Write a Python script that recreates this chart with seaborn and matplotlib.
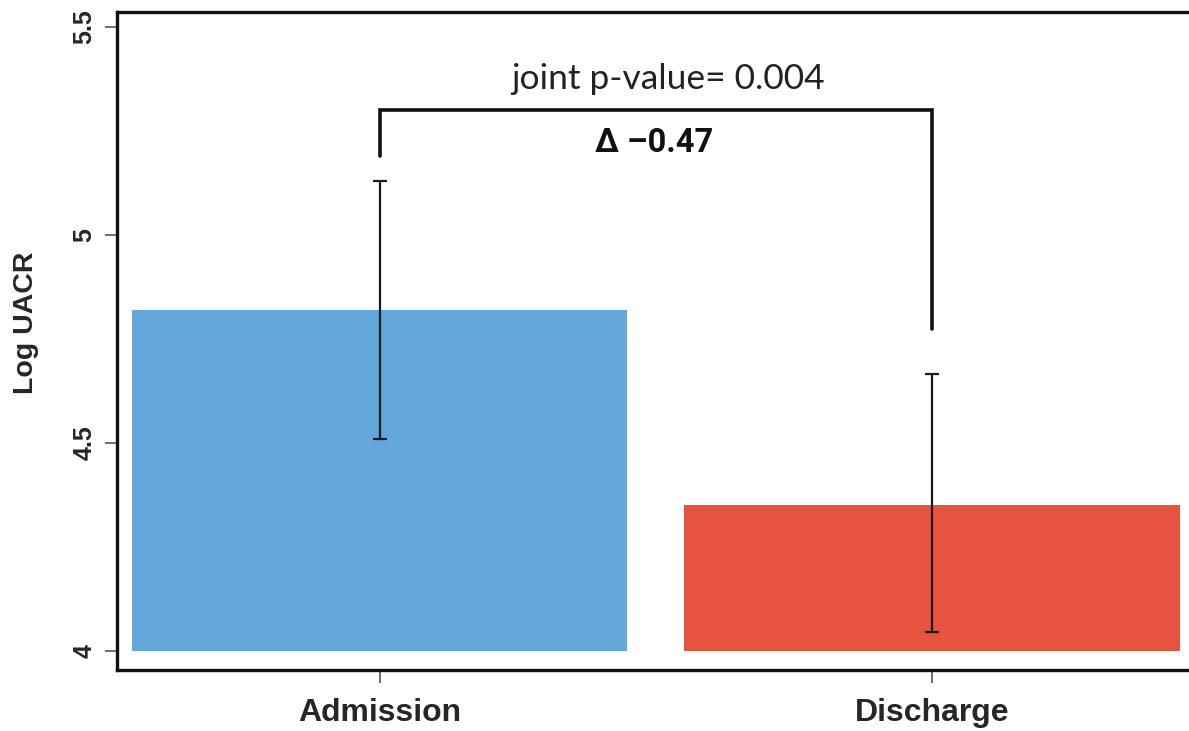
import matplotlib
matplotlib.use("Agg")
import matplotlib.pyplot as plt
import seaborn as sns
import pandas as pd

# Group means of log UACR with their interval limits
categories = ["Admission", "Discharge"]
means = [4.82, 4.35]
lower = [4.51, 4.045]
upper = [5.13, 4.665]
baseline = 4.0
colors = ["#64A7DA", "#E6533F"]

# Annotation values
bracket_y = 5.30
bracket_left_end = 5.19
bracket_right_end = 4.775
p_label = "joint p-value= 0.004"
delta_label = "\u0394 \u20130.47"

sns.set_style("white")
plt.rcParams["font.family"] = ["Liberation Sans", "DejaVu Sans"]

fig = plt.figure(figsize=(11.89, 7.31), dpi=100)
W, H = 1189, 731
ax = fig.add_axes([117 / W, 61 / H, (1208 - 117) / W, (670 - 12) / H])

df = pd.DataFrame({"group": categories, "value": means})
sns.barplot(data=df, x="group", y="value", hue="group", palette=colors,
            width=0.897, errorbar=None, legend=False, ax=ax, saturation=1)

# Bars rise from the baseline of the axis rather than from zero
for p in ax.patches:
    h = p.get_height()
    p.set_y(baseline)
    p.set_height(h - baseline)
    p.set_edgecolor("none")

xs = list(range(len(categories)))
yerr = [[m - lo for m, lo in zip(means, lower)],
        [hi - m for m, hi in zip(means, upper)]]
ax.errorbar(xs, means, yerr=yerr, fmt="none", ecolor="#1a1a1a",
            elinewidth=1.6, capsize=5, capthick=1.6, zorder=5)

# Comparison bracket
ax.plot([0, 0, 1, 1], [bracket_left_end, bracket_y, bracket_y, bracket_right_end],
        color="#111111", lw=2.6, solid_joinstyle="miter", zorder=5)
ax.text(0.522, 5.375, p_label, ha="center", va="center", fontsize=25.5,
        family=["Lato", "DejaVu Sans"], color="#222222")
ax.text(0.497, 5.22, delta_label, ha="center", va="center", fontsize=23.5,
        fontweight="bold", family=["Roboto", "DejaVu Sans"], color="#111111")

ax.set_xlim(-0.476, 1.5)
ax.set_ylim(3.954, 5.536)
ax.set_yticks([4, 4.5, 5, 5.5])
ax.set_yticklabels(["4", "4.5", "5", "5.5"], rotation=90, va="center",
                   fontsize=18, fontweight="bold")
ax.set_xticks(xs)
ax.set_xticklabels(categories, fontsize=23, fontweight="bold")
ax.set_xlabel("")
ax.set_ylabel("Log UACR", fontsize=20.5, fontweight="bold")
ax.yaxis.set_label_coords((39 - 117) / 1091, (670 - 323) / 658)

ax.tick_params(axis="both", which="major", direction="out", length=9,
               width=1.2, color="#555555", left=True, bottom=True)
ax.tick_params(axis="y", pad=6)
ax.tick_params(axis="x", pad=11)
for s in ax.spines.values():
    s.set_color("#111111")
    s.set_linewidth(2.4)

fig.savefig("out.png", dpi=100)
